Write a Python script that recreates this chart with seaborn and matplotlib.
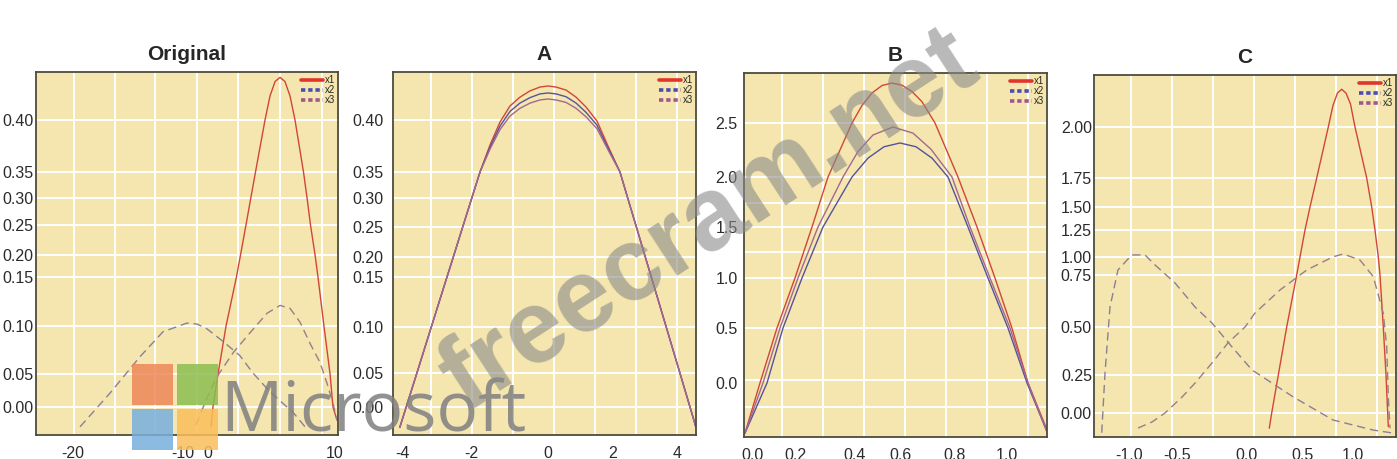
import numpy as np
import matplotlib
matplotlib.use("Agg")
import matplotlib.pyplot as plt
import seaborn as sns
from matplotlib.lines import Line2D
from matplotlib.patches import Rectangle
from matplotlib.ticker import NullFormatter

# ---- data ----
# Original
orig_x1_x = [0.24, 0.39, 0.79, 1.42, 2.24, 2.56, 2.99, 3.37, 3.74, 4.49, 4.88, 5.28, 5.67,
             6.06, 6.46, 6.85, 7.52, 7.80, 8.07, 8.43, 8.66, 9.13, 9.61, 9.84, 10.16]
orig_x1_y = [-0.03, 0.00, 0.05, 0.10, 0.15, 0.20, 0.25, 0.30, 0.35, 0.40, 0.423, 0.437, 0.441,
             0.437, 0.423, 0.40, 0.35, 0.30, 0.25, 0.20, 0.15, 0.10, 0.05, 0.00, -0.02]
orig_x2_x = [-19.36, -16.64, -13.91, -11.82, -8.4, -4.4, -0.4, 1.18, 2.52, 3.54, 4.88, 6.69, 7.64]
orig_x2_y = [-0.030, 0.021, 0.068, 0.094, 0.103, 0.102, 0.097, 0.084, 0.069, 0.051, 0.023, -0.008, -0.030]
orig_x3_x = [-4.8, -0.4, 0.71, 1.97, 3.31, 4.65, 5.67, 6.46, 7.24, 8.03, 8.82, 9.37, 9.84, 10.16]
orig_x3_y = [-0.027, 0.014, 0.046, 0.072, 0.093, 0.113, 0.121, 0.118, 0.104, 0.082, 0.062, 0.036, 0.006, -0.020]

# A
a_x = [-4.064, -3.878, -3.568, -3.151, -2.696, -2.513, -2.241, -1.979, -1.766, -1.506, -1.247,
       -0.987, -0.727, -0.468, -0.208, 0.0, 0.246, 0.554, 0.862, 1.169, 1.508, 1.846, 2.219,
       2.459, 2.731, 3.009, 3.197, 3.663, 4.091, 4.406, 4.594]
a_x1_y = [-0.03, 0.00, 0.05, 0.10, 0.15, 0.20, 0.25, 0.30, 0.35, 0.376, 0.398, 0.4135, 0.422,
          0.428, 0.4317, 0.4327, 0.4317, 0.4288, 0.422, 0.4125, 0.399, 0.375, 0.35, 0.30, 0.25,
          0.20, 0.15, 0.10, 0.05, 0.00, -0.03]
a_x2_y = [-0.03, 0.00, 0.05, 0.10, 0.15, 0.20, 0.25, 0.30, 0.35, 0.3738, 0.3941, 0.4083, 0.4163,
          0.4215, 0.4251, 0.4260, 0.4251, 0.4224, 0.4163, 0.4074, 0.3950, 0.3730, 0.35, 0.30,
          0.25, 0.20, 0.15, 0.10, 0.05, 0.00, -0.03]
a_x3_y = [-0.03, 0.00, 0.05, 0.10, 0.15, 0.20, 0.25, 0.30, 0.35, 0.3720, 0.3908, 0.4038, 0.4113,
          0.4162, 0.4193, 0.4202, 0.4193, 0.4169, 0.4113, 0.4031, 0.3916, 0.3713, 0.35, 0.30,
          0.25, 0.20, 0.15, 0.10, 0.05, 0.00, -0.03]

# B
b_x1_x = [-0.038, 0.0333, 0.1143, 0.2, 0.2567, 0.31, 0.39, 0.431, 0.4756, 0.52, 0.5644, 0.6073,
          0.6436, 0.68, 0.7273, 0.8115, 0.8846, 0.9538, 1.019, 1.081, 1.154]
b_x1_y = [-0.455, 0.0, 0.5, 1.0, 1.5, 2.0, 2.5, 2.662, 2.778, 2.847, 2.870, 2.850, 2.791, 2.697,
          2.5, 2.0, 1.5, 1.0, 0.5, 0.0, -0.427]
b_x2_x = [-0.038, 0.0667, 0.1429, 0.2233, 0.2933, 0.39, 0.4578, 0.5289, 0.6, 0.6582, 0.7164,
          0.7745, 0.85, 0.9269, 1.0038, 1.077, 1.154]
b_x2_y = [-0.455, 0.0, 0.5, 1.0, 1.5, 2.0, 2.175, 2.28, 2.315, 2.28, 2.175, 2.0, 1.5, 1.0, 0.5, 0.0, -0.445]
b_x3_x = [-0.038, 0.0476, 0.1286, 0.21, 0.2767, 0.36, 0.4133, 0.48, 0.5689, 0.6473, 0.7127,
          0.7891, 0.8577, 0.9346, 1.0115, 1.0808, 1.154]
b_x3_y = [-0.455, 0.0, 0.5, 1.0, 1.5, 2.0, 2.236, 2.389, 2.463, 2.406, 2.257, 2.0, 1.5, 1.0, 0.5, 0.0, -0.445]

# C
c_x1_x = [0.199, 0.2205, 0.2795, 0.3545, 0.4438, 0.4732, 0.52, 0.57, 0.637, 0.753, 0.80, 0.845,
          0.887, 0.93, 0.975, 1.02, 1.137, 1.187, 1.22, 1.253, 1.27, 1.303, 1.33, 1.347, 1.353]
c_x1_y = [-0.10, 0.0, 0.25, 0.5, 0.75, 1.0, 1.25, 1.5, 1.75, 2.0, 2.106, 2.167, 2.185, 2.166,
          2.113, 2.0, 1.75, 1.5, 1.25, 1.0, 0.75, 0.5, 0.25, 0.0, -0.09]
c_x2_x = [-1.284, -1.25, -1.198, -1.115, -0.972, -0.833, -0.729, -0.521, -0.371, -0.25, -0.107,
          0.045, 0.41, 0.80, 1.20, 1.40]
c_x2_y = [-0.13, 0.26, 0.596, 0.819, 1.019, 1.019, 0.889, 0.712, 0.596, 0.519, 0.396, 0.276,
          0.107, -0.046, -0.112, -0.132]
c_x3_x = [-0.906, -0.76, -0.625, -0.464, -0.371, -0.25, -0.136, -0.014, 0.071, 0.295, 0.537,
          0.803, 0.903, 1.07, 1.203, 1.303, 1.337, 1.353, 1.37]
c_x3_y = [-0.099, -0.059, 0.0, 0.105, 0.197, 0.3125, 0.417, 0.5, 0.567, 0.678, 0.819, 1.003,
          1.028, 0.958, 0.742, 0.566, 0.397, 0.107, -0.10]

titles = ["Original", "A", "B", "C"]
series_names = ["x1", "x2", "x3"]

# tick values and labels
orig_xticks = [-20, -10, 0, 10]
orig_yticks = [0.00, 0.05, 0.10, 0.15, 0.20, 0.25, 0.30, 0.35, 0.40]
a_xticks = [-4, -2, 0, 2, 4]
a_yticks = [0.00, 0.05, 0.10, 0.15, 0.20, 0.25, 0.30, 0.35, 0.40]
b_xticks = [0.0, 0.2, 0.4, 0.6, 0.8, 1.0]
b_yticks = [0.0, 0.5, 1.0, 1.5, 2.0, 2.5]
c_xticks = [-1.0, -0.5, 0.0, 0.5, 1.0]
c_yticks = [0.00, 0.25, 0.50, 0.75, 1.00, 1.25, 1.50, 1.75, 2.00]

# ---- layout / style (pixel positions measured on the reference) ----
W, H = 1397, 459
BG = "#F4E6AE"
RED, BLUE, PURPLE = "#d2453a", "#55529e", "#a3688f"
DASH2, DASH3 = "#8b7f97", "#9a7d8b"

layout = [
    dict(box=(36, 72, 338, 435), xtick_px=[73, 183, 208, 335],
         ytick_px=[407, 374, 326, 277, 255, 225, 198, 172, 120],
         vgrid=[74, 115, 155, 197, 238, 280, 322],
         hgrid=[120, 172, 198, 225, 255, 277, 326, 374, 407], ypad=2, yfmt="{:.2f}", xfmt="{:g}"),
    dict(box=(393, 72, 696, 435), xtick_px=[402, 471, 548, 613, 677],
         ytick_px=[407, 373, 327, 277, 257, 227, 198, 172, 120],
         vgrid=[431, 472, 513, 554, 595, 636, 677],
         hgrid=[120, 172, 198, 227, 257, 277, 327, 373, 407], ypad=7, yfmt="{:.2f}", xfmt="{:g}"),
    dict(box=(744, 73, 1047, 437), xtick_px=[753, 795, 855, 900, 955, 1007],
         ytick_px=[383, 328, 278, 227, 177, 123],
         vgrid=[782, 823, 864, 905, 946, 987, 1028],
         hgrid=[123, 177, 203, 227, 252, 278, 328, 380, 407], ypad=4.5, yfmt="{:.1f}", xfmt="{:.1f}"),
    dict(box=(1094, 75, 1396, 437), xtick_px=[1129, 1177, 1247, 1303, 1353],
         ytick_px=[413, 375, 327, 275, 257, 230, 207, 178, 127],
         vgrid=[1131, 1172, 1213, 1254, 1295, 1336, 1377],
         hgrid=[127, 178, 207, 230, 257, 275, 327, 375, 413], ypad=1.5, yfmt="{:.2f}", xfmt="{:.1f}"),
]

panels = [
    dict(xt=orig_xticks, yt=orig_yticks, dashed=True,
         lines=[(orig_x1_x, orig_x1_y), (orig_x2_x, orig_x2_y), (orig_x3_x, orig_x3_y)]),
    dict(xt=a_xticks, yt=a_yticks, dashed=False,
         lines=[(a_x, a_x1_y), (a_x, a_x2_y), (a_x, a_x3_y)]),
    dict(xt=b_xticks, yt=b_yticks, dashed=False,
         lines=[(b_x1_x, b_x1_y), (b_x2_x, b_x2_y), (b_x3_x, b_x3_y)]),
    dict(xt=c_xticks, yt=c_yticks, dashed=True,
         lines=[(c_x1_x, c_x1_y), (c_x2_x, c_x2_y), (c_x3_x, c_x3_y)]),
]


def piecewise_scale(vals, pix):
    """Axis scale that puts each tick value at its measured pixel position."""
    v = np.asarray(vals, float)
    p = np.asarray(pix, float)
    sign = 1.0 if p[-1] > p[0] else -1.0   # screen y grows downwards
    p = p * sign
    lo = (p[1] - p[0]) / (v[1] - v[0])
    hi = (p[-1] - p[-2]) / (v[-1] - v[-2])

    def fwd(a):
        a = np.asarray(a, float)
        out = np.interp(a, v, p)
        out = np.where(a < v[0], p[0] + (a - v[0]) * lo, out)
        return np.where(a > v[-1], p[-1] + (a - v[-1]) * hi, out)

    def inv(b):
        b = np.asarray(b, float)
        out = np.interp(b, p, v)
        out = np.where(b < p[0], v[0] + (b - p[0]) / lo, out)
        return np.where(b > p[-1], v[-1] + (b - p[-1]) / hi, out)

    def at_px(px):
        return inv(np.asarray(px, float) * sign)

    return fwd, inv, at_px


sns.set_theme(style="white")
plt.rcParams["font.family"] = ["Liberation Sans", "DejaVu Sans"]

fig = plt.figure(figsize=(W / 100, H / 100), dpi=100)
fig.patch.set_facecolor("white")

for title, pan, lay in zip(titles, panels, layout):
    l, t, r, b = lay["box"]
    ax = fig.add_axes([l / W, 1 - b / H, (r - l) / W, (b - t) / H])
    ax.set_facecolor(BG)

    if pan["dashed"]:
        styles = [(RED, "-"), (DASH2, (0, (6, 3.5))), (DASH3, (0, (6, 3.5)))]
    else:
        styles = [(RED, "-"), (BLUE, "-"), (PURPLE, "-")]
    for (xs, ys), (col, ls) in zip(pan["lines"], styles):
        sns.lineplot(x=xs, y=ys, ax=ax, color=col, linestyle=ls, lw=1.0,
                     sort=False, estimator=None, legend=False)

    fx, ix, xpx = piecewise_scale(pan["xt"], lay["xtick_px"])
    fy, iy, ypx = piecewise_scale(pan["yt"], lay["ytick_px"])
    ax.set_xscale("function", functions=(fx, ix))
    ax.set_yscale("function", functions=(fy, iy))
    ax.set_xlim(float(xpx(l)), float(xpx(r)))
    ax.set_ylim(float(ypx(b)), float(ypx(t)))

    ax.set_xticks(pan["xt"], [lay["xfmt"].format(v) for v in pan["xt"]])
    ax.set_yticks(pan["yt"], [lay["yfmt"].format(v) for v in pan["yt"]])
    # grid lines sit on their own (minor) positions; keep those that meet a tick
    ax.xaxis.remove_overlapping_locs = False
    ax.yaxis.remove_overlapping_locs = False
    ax.set_xticks(xpx(lay["vgrid"]), minor=True)
    ax.set_yticks(ypx(lay["hgrid"]), minor=True)
    ax.xaxis.set_minor_formatter(NullFormatter())
    ax.yaxis.set_minor_formatter(NullFormatter())
    ax.grid(False)
    ax.grid(True, which="minor", color="white", lw=1.4)
    ax.set_axisbelow(True)
    ax.tick_params(which="both", length=0, labelsize=11.5, labelcolor="#2b2b2b")
    ax.tick_params(axis="x", pad=8)
    ax.tick_params(axis="y", pad=lay["ypad"])
    ax.set_xlabel("")
    ax.set_ylabel("")
    for sp in ax.spines.values():
        sp.set_color("#4d4b3c")
        sp.set_linewidth(1.3)

    ax.set_title(title, fontsize=15, fontweight="bold", pad=8.5)

    handles = [Line2D([], [], color="#e0352b", lw=2.6),
               Line2D([], [], color="#4b4bb0", lw=2.6, ls=(0, (1.2, 0.8))),
               Line2D([], [], color="#a0588c", lw=2.6, ls=(0, (1.2, 0.8)))]
    ax.legend(handles, series_names, loc="upper right", frameon=False, fontsize=7,
              handlelength=2.3, handletextpad=0.15, labelspacing=0.0,
              borderpad=0.1, borderaxespad=0.2)

# watermarks over the chart
logo = [((132, 364), "#EE875A"), ((177, 364), "#8CBE50"),
        ((132, 409), "#78AFDC"), ((177, 409), "#FABE5A")]
for (px, py), col in logo:
    fig.add_artist(Rectangle((px / W, 1 - (py + 41) / H), 41 / W, 41 / H,
                             transform=fig.transFigure, color=col, alpha=0.85, lw=0, zorder=20))
fig.text(220 / W, 1 - 431 / H, "Microsoft", fontsize=50, family=["Open Sans", "DejaVu Sans"],
         color="#7f7f7f", alpha=0.85, ha="left", va="baseline", zorder=21)
fig.text(710 / W, 1 - 222 / H, "freecram.net", fontsize=74, fontweight="bold",
         color="#8a8a8a", alpha=0.6, rotation=33, ha="center", va="center",
         rotation_mode="anchor", zorder=21)

fig.savefig("out.png", dpi=100, facecolor="white")
